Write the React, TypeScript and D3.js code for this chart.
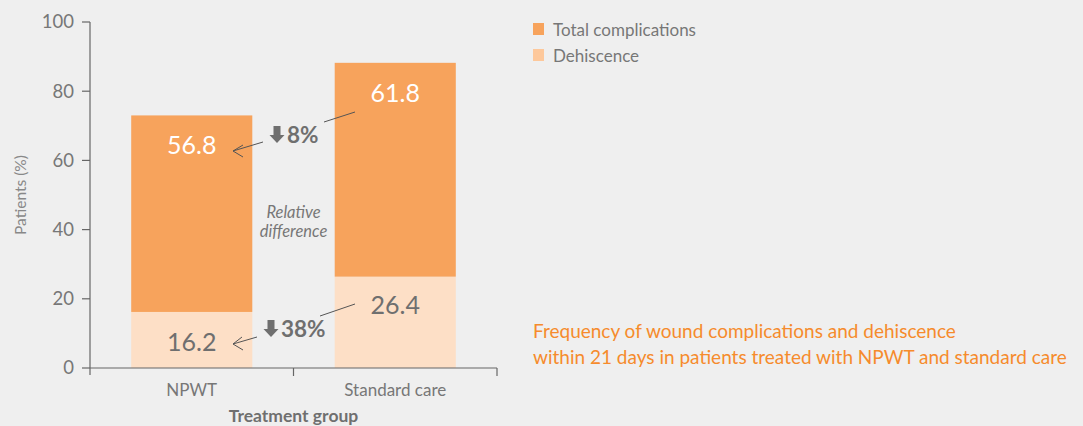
import React from "react";
import * as d3 from "d3";

const categories = ["NPWT", "Standard care"];
const dehiscence = [16.2, 26.4];
const totalComplications = [56.8, 61.8];
const yTicks = [0, 20, 40, 60, 80, 100];
const relDiffTotal = "8%";
const relDiffDehiscence = "38%";

const W = 1083;
const H = 426;
const BG = "#efefef";
const DARK = "#f7a35c";
const LIGHT = "#fddfc6";
const LEGEND_LIGHT = "#fdc89b";
const GRAY = "#6f6f6f";
const AXIS = "#666";
const ORANGE = "#f68b2c";
const FONT = "Lato, 'Open Sans', sans-serif";

export default function App() {
  const x = d3.scaleBand<string>().domain(categories).range([90, 497]).padding(0);
  const y = d3.scaleLinear().domain([0, 100]).range([368, 22]);
  const barW = x.bandwidth() * 0.595;
  const cx = (c: string) => (x(c) as number) + x.bandwidth() / 2;

  const downArrow = (ax: number, top: number) => {
    const p = d3.path();
    p.moveTo(ax - 3.5, top);
    p.lineTo(ax + 3.5, top);
    p.lineTo(ax + 3.5, top + 9);
    p.lineTo(ax + 7.5, top + 9);
    p.lineTo(ax, top + 17);
    p.lineTo(ax - 7.5, top + 9);
    p.lineTo(ax - 3.5, top + 9);
    p.closePath();
    return p.toString();
  };

  const n0 = categories[0];
  const n1 = categories[1];
  const midX = x(n1) as number;

  return (
    <svg width={W} height={H} style={{ position: "absolute", left: 0, top: 0, background: BG }}>
      <rect x={0} y={0} width={W} height={H} fill={BG} />
      {categories.map((c, i) => (
        <g key={c}>
          <rect x={cx(c) - barW / 2} y={y(dehiscence[i])} width={barW} height={y(0) - y(dehiscence[i])} fill={LIGHT} />
          <rect
            x={cx(c) - barW / 2}
            y={y(dehiscence[i] + totalComplications[i])}
            width={barW}
            height={y(dehiscence[i]) - y(dehiscence[i] + totalComplications[i])}
            fill={DARK}
          />
        </g>
      ))}
      <line x1={90} x2={90} y1={y(100)} y2={375} stroke={AXIS} strokeWidth={1.2} />
      {yTicks.map((t) => (
        <g key={t}>
          <line x1={82} x2={90} y1={y(t)} y2={y(t)} stroke={AXIS} strokeWidth={1.2} />
          <text x={74} y={y(t)} dy="0.35em" textAnchor="end" fontFamily={FONT} fontSize={18.5} fill="#777">
            {t}
          </text>
        </g>
      ))}
      <text
        transform={`translate(26,${y(50)}) rotate(-90)`}
        textAnchor="middle"
        fontFamily={FONT}
        fontSize={15.5}
        fill="#888"
      >
        Patients (%)
      </text>
      <line x1={90} x2={497} y1={y(0)} y2={y(0)} stroke={AXIS} strokeWidth={1.2} />
      {[midX, 497].map((tx) => (
        <line key={tx} x1={tx} x2={tx} y1={y(0)} y2={376} stroke={AXIS} strokeWidth={1.2} />
      ))}
      {categories.map((c) => (
        <text key={c} x={cx(c)} y={390} dy="0.35em" textAnchor="middle" fontFamily={FONT} fontSize={17} fill="#777">
          {c}
        </text>
      ))}
      <text x={midX} y={416} dy="0.35em" textAnchor="middle" fontFamily={FONT} fontSize={17.5} fontWeight={700} fill={GRAY}>
        Treatment group
      </text>
      <text x={cx(n0)} y={145} dy="0.35em" textAnchor="middle" fontFamily={FONT} fontSize={25} fill="#fff">
        {totalComplications[0]}
      </text>
      <text x={cx(n1)} y={93} dy="0.35em" textAnchor="middle" fontFamily={FONT} fontSize={25} fill="#fff">
        {totalComplications[1]}
      </text>
      <text x={cx(n0)} y={342} dy="0.35em" textAnchor="middle" fontFamily={FONT} fontSize={25} fill={GRAY}>
        {dehiscence[0]}
      </text>
      <text x={cx(n1)} y={305} dy="0.35em" textAnchor="middle" fontFamily={FONT} fontSize={25} fill={GRAY}>
        {dehiscence[1]}
      </text>
      <text x={midX} y={212} dy="0.35em" textAnchor="middle" fontFamily={FONT} fontSize={16.5} fontStyle="italic" fill="#777">
        Relative
      </text>
      <text x={midX} y={231} dy="0.35em" textAnchor="middle" fontFamily={FONT} fontSize={16.5} fontStyle="italic" fill="#777">
        difference
      </text>
      <path d={downArrow(277, 126)} fill={GRAY} />
      <text x={287} y={143} textAnchor="start" fontFamily={FONT} fontSize={22.5} fontWeight={700} fill={GRAY}>
        {relDiffTotal}
      </text>
      <path d={downArrow(271, 320)} fill={GRAY} />
      <text x={281} y={337} textAnchor="start" fontFamily={FONT} fontSize={22.5} fontWeight={700} fill={GRAY}>
        {relDiffDehiscence}
      </text>
      <g stroke="#555" strokeWidth={1} fill="none">
        <line x1={355} y1={112} x2={324} y2={122} />
        <line x1={263} y1={142} x2={233} y2={151} />
        <polyline points="243,145 233,151 243,157" />
        <line x1={355} y1={304} x2={320} y2={316} />
        <line x1={257} y1={337} x2={233} y2={344} />
        <polyline points="242,337 233,344 243,350" />
      </g>
      <rect x={533} y={23} width={11} height={12} fill={DARK} />
      <text x={553} y={30} dy="0.35em" fontFamily={FONT} fontSize={17} fill="#777">
        Total complications
      </text>
      <rect x={533} y={49} width={11} height={12} fill={LEGEND_LIGHT} />
      <text x={553} y={56} dy="0.35em" fontFamily={FONT} fontSize={17} fill="#777">
        Dehiscence
      </text>
      <text x={533} y={331} dy="0.35em" fontFamily={FONT} fontSize={19} fill={ORANGE}>
        Frequency of wound complications and dehiscence
      </text>
      <text x={533} y={357} dy="0.35em" fontFamily={FONT} fontSize={19} fill={ORANGE}>
        within 21 days in patients treated with NPWT and standard care
      </text>
    </svg>
  );
}
